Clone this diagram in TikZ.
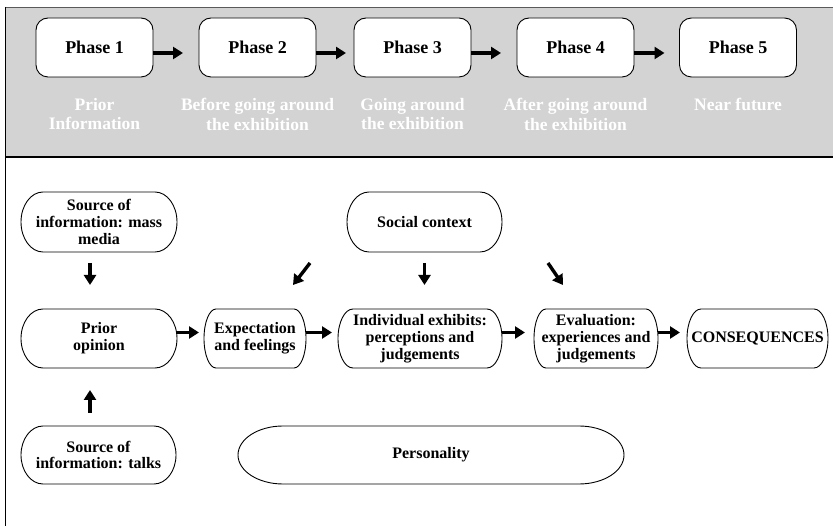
\documentclass[tikz,border=0pt]{standalone}
\usepackage{fontspec}
\setmainfont{Liberation Serif}
\usetikzlibrary{arrows.meta,calc}
\definecolor{bandgray}{HTML}{D3D3D3}
\definecolor{edgegray}{HTML}{5A5A5A}
\newcommand\capsule[3]{%
  \draw[capline] ([xshift=#2pt]#1.north west) -- ([xshift=-#2pt]#1.north east)
    arc[start angle=90,end angle=-90,x radius=#2pt,y radius=#3pt]
    -- ([xshift=#2pt]#1.south west)
    arc[start angle=270,end angle=90,x radius=#2pt,y radius=#3pt] -- cycle;}
\begin{document}
\begin{tikzpicture}[x=1pt,y=1pt,
  phasebox/.style={draw=black,fill=white,line width=0.9pt,rounded corners=12pt,
    minimum width=117pt,minimum height=59pt,inner sep=0pt,outer sep=0pt,
    font=\bfseries\fontsize{18}{20}\selectfont},
  phasesub/.style={anchor=north,inner sep=0pt,align=center,text=white,
    font=\bfseries\fontsize{17.5}{19.5}\selectfont},
  lbox/.style={inner sep=0pt,outer sep=0pt,align=center,
    font=\bfseries\fontsize{16}{16.8}\selectfont},
  capline/.style={draw=black,line width=0.9pt},
  arr/.style={line width=3.4pt,-{Triangle[length=10pt,width=12pt]}}]
\useasboundingbox (0,0) rectangle (833,-526);
% band
\fill[bandgray] (5,-7) rectangle (833,-157);
\draw[edgegray,line width=0.8pt] (5,-7) -- (833,-7);
\draw[black,line width=1.4pt] (5,-157) -- (833,-157);
\draw[black,line width=1pt] (5,-7) -- (5,-526);
% phases
\node[phasebox] (p1) at (94.5,-47.5) {Phase 1};
\node[phasebox] (p2) at (257.5,-47.5) {Phase 2};
\node[phasebox] (p3) at (412.5,-47.5) {Phase 3};
\node[phasebox] (p4) at (575.5,-47.5) {Phase 4};
\node[phasebox] (p5) at (738,-47.5) {Phase 5};
\node[phasesub] (s1) at (94.5,-98) {Prior\\Information};
\node[phasesub] (s2) at (257.5,-98) {Before going around\\the exhibition};
\node[phasesub] (s3) at (412.5,-98) {Going around\\the exhibition};
\node[phasesub] (s4) at (575.5,-98) {After going around\\the exhibition};
\node[phasesub] (s5) at (738,-98) {Near future};
\draw[arr] ([yshift=-5.5pt]p1.east) -- ([xshift=-16pt,yshift=-5.5pt]p2.west);
\draw[arr] ([yshift=-5.5pt]p2.east) -- ([xshift=-8pt,yshift=-5.5pt]p3.west);
\draw[arr] ([yshift=-5.5pt]p3.east) -- ([xshift=-16pt,yshift=-5.5pt]p4.west);
\draw[arr] ([yshift=-5.5pt]p4.east) -- ([xshift=-15pt,yshift=-5.5pt]p5.west);
% lower nodes
\node[lbox,minimum width=156pt,minimum height=60pt] (media) at (99,-222) {Source of\\information: mass\\media};
\node[lbox,minimum width=155pt,minimum height=60pt] (social) at (424.5,-222) {Social context};
\node[lbox,minimum width=156pt,minimum height=59pt] (prior) at (99,-338.5) {Prior\\opinion};
\node[lbox,minimum width=102pt,minimum height=59pt] (expect) at (255,-338.5) {Expectation\\and feelings};
\node[lbox,minimum width=164pt,minimum height=59pt] (indiv) at (420,-338.5) {Individual exhibits:\\perceptions and\\judgements};
\node[lbox,minimum width=124pt,minimum height=59pt] (eval) at (596,-338.5) {Evaluation:\\experiences and\\judgements};
\node[lbox,minimum width=141pt,minimum height=59pt] (conseq) at (757.5,-338.5) {CONSEQUENCES};
\node[lbox,minimum width=155pt,minimum height=58pt] (talks) at (98.5,-455) {Source of\\information: talks};
\node[lbox,minimum width=386pt,minimum height=58pt] (pers) at (431,-455) {Personality};
\capsule{media}{22}{30}
\capsule{social}{22}{30}
\capsule{prior}{22}{29.5}
\capsule{expect}{12}{29.5}
\capsule{indiv}{15}{29.5}
\capsule{eval}{12}{29.5}
\capsule{conseq}{14}{29.5}
\capsule{talks}{22}{29}
\capsule{pers}{45}{29}
% connectors
\draw[arr] ([xshift=-9pt,yshift=-11pt]media.south) -- ([xshift=-9pt,yshift=24pt]prior.north);
\draw[arr] ([xshift=-8.5pt,yshift=13pt]talks.north) -- ([xshift=-9pt,yshift=-22pt]prior.south);
\draw[arr] ([yshift=-11pt]social.south) -- ([yshift=-33pt]social.south);
\draw[arr] ([xshift=-114.5pt,yshift=-11pt]social.south) -- ([xshift=-131.5pt,yshift=-33pt]social.south);
\draw[arr] ([xshift=123.5pt,yshift=-11pt]social.south) -- ([xshift=138.5pt,yshift=-33pt]social.south);
\draw[arr] ([yshift=6pt]prior.east) -- ([xshift=-5pt,yshift=6pt]expect.west);
\draw[arr] ([yshift=6pt]expect.east) -- ([xshift=-6pt,yshift=6pt]indiv.west);
\draw[arr] ([yshift=6pt]indiv.east) -- ([xshift=-9pt,yshift=6pt]eval.west);
\draw[arr] ([yshift=6pt]eval.east) -- ([xshift=-7pt,yshift=6pt]conseq.west);
\end{tikzpicture}
\end{document}
